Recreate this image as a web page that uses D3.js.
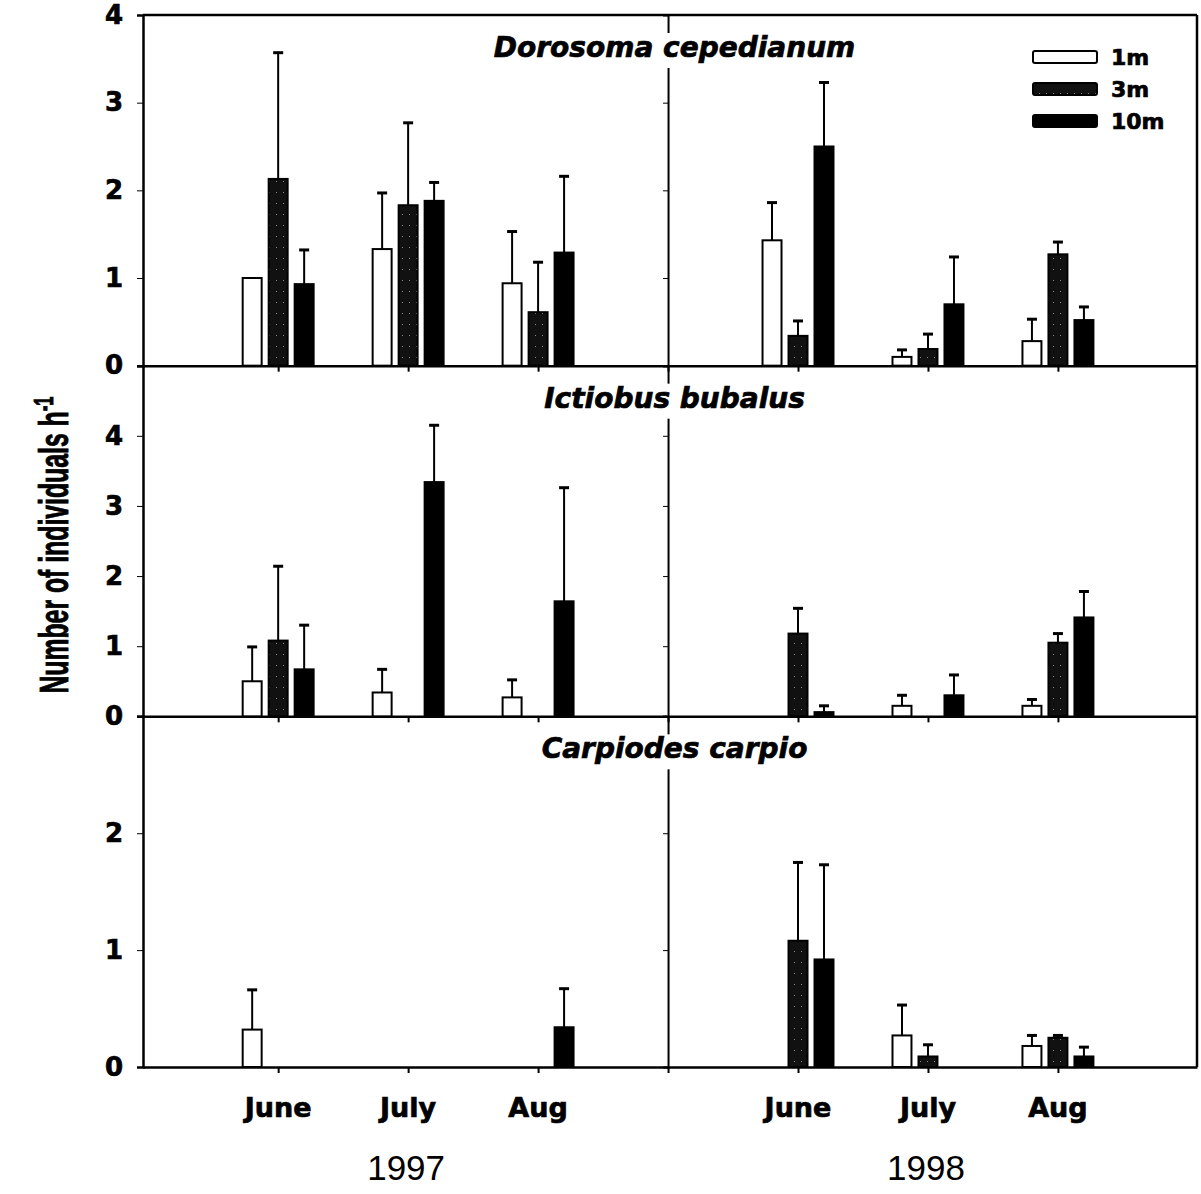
<!DOCTYPE html>
<html>
<head>
<meta charset="utf-8">
<script src="https://cdn.jsdelivr.net/npm/d3@7"></script>
<style>
  body { margin: 0; background: #fff; }
  .tick text { font-family: 'DejaVu Sans', sans-serif; font-weight: bold; stroke: #000; stroke-width: 0.7px; }
  .heavy { font-family: 'DejaVu Sans', sans-serif; font-weight: bold; stroke: #000; stroke-width: 0.7px; }
</style>
</head>
<body>
<div id="chart"></div>
<script>
const months = ['June', 'July', 'Aug'];
const years = ['1997', '1998'];
const depths = ['1m', '3m', '10m'];
const species = ['Dorosoma cepedianum', 'Ictiobus bubalus', 'Carpiodes carpio'];
const yMaxes = [4, 5, 3];
const yTicks = [[0, 1, 2, 3, 4], [0, 1, 2, 3, 4], [0, 1, 2]];

// rows: June97, July97, Aug97, June98, July98, Aug98 ; columns: 1m, 3m, 10m
const dorosomaMean = [[1.00, 2.13, 0.93], [1.33, 1.83, 1.88], [0.94, 0.61, 1.29],
                      [1.43, 0.34, 2.50], [0.10, 0.19, 0.70], [0.28, 1.27, 0.52]];
const dorosomaErr  = [[0.00, 1.44, 0.39], [0.64, 0.94, 0.21], [0.59, 0.57, 0.87],
                      [0.43, 0.17, 0.73], [0.08, 0.17, 0.54], [0.25, 0.14, 0.15]];
const ictiobusMean = [[0.50, 1.08, 0.67], [0.34, 0, 3.34], [0.27, 0, 1.64],
                      [0, 1.18, 0.06], [0.15, 0, 0.30], [0.15, 1.05, 1.41]];
const ictiobusErr  = [[0.49, 1.06, 0.63], [0.33, 0, 0.81], [0.25, 0, 1.62],
                      [0, 0.36, 0.09], [0.15, 0, 0.29], [0.09, 0.13, 0.37]];
const carpiodesMean = [[0.32, 0, 0], [0, 0, 0], [0, 0, 0.34],
                       [0, 1.08, 0.92], [0.27, 0.09, 0], [0.18, 0.25, 0.09]];
const carpiodesErr  = [[0.34, 0, 0], [0, 0, 0], [0, 0, 0.33],
                       [0, 0.67, 0.81], [0.26, 0.10, 0], [0.09, 0.02, 0.08]];

const means = [dorosomaMean, ictiobusMean, carpiodesMean];
const errs = [dorosomaErr, ictiobusErr, carpiodesErr];
const periodPos = [1, 2, 3, 5, 6, 7];

const width = 1201, height = 1194;
const plotLeft = 143, plotRight = 1197, plotTop = 15, plotBottom = 1067;
const panelH = (plotBottom - plotTop) / 3;

const svg = d3.select('#chart').append('svg')
    .attr('width', width).attr('height', height);

const defs = svg.append('defs');
const pat = defs.append('pattern').attr('id', 'stipple')
    .attr('patternUnits', 'userSpaceOnUse').attr('width', 7).attr('height', 11);
pat.append('rect').attr('width', 7).attr('height', 11).attr('fill', '#111');
pat.append('rect').attr('x', 3).attr('y', 5).attr('width', 1).attr('height', 1).attr('fill', '#888');
const fills = ['#fff', 'url(#stipple)', '#000'];

const x = d3.scaleLinear().domain([-0.04, 8.07]).range([plotLeft, plotRight]);
const offset = d3.scaleLinear().domain([0, 2]).range([-0.2, 0.2]);
const barW = x(0.146) - x(0);

species.forEach((name, p) => {
    let y = d3.scaleLinear().domain([0, yMaxes[p]])
        .range([plotTop + panelH * (p + 1), plotTop + panelH * p]);
    let g = svg.append('g');

    let yAxis = d3.axisLeft(y).tickValues(yTicks[p]).tickSize(6).tickPadding(14).tickFormat(d3.format('d'));
    g.append('g').attr('transform', `translate(${plotLeft},0)`).call(yAxis)
        .call(a => a.selectAll('text').attr('font-size', 26))
        .call(a => a.select('.domain').attr('stroke-width', 2.5));
    g.append('g').attr('transform', `translate(${x(4)},0)`)
        .call(d3.axisLeft(y).tickValues(yTicks[p]).tickSize(5).tickFormat(''))
        .call(a => a.select('.domain').attr('stroke-width', 2));

    let xAxis = d3.axisBottom(x).tickValues([1, 2, 3, 4, 5, 6, 7]).tickSize(6).tickSizeOuter(0).tickFormat('');
    g.append('g').attr('transform', `translate(0,${y(0)})`).call(xAxis)
        .call(a => a.select('.domain').attr('stroke-width', 2.5))
        .call(a => a.selectAll('.tick line').attr('stroke-width', 2));

    // panel title on a white box, hiding the divider behind it
    let titleBox = g.append('rect').attr('fill', '#fff');
    let title = g.append('text')
        .attr('class', 'heavy')
        .attr('x', x(4.05)).attr('y', y(yMaxes[p]) + 42)
        .attr('text-anchor', 'middle')
        .attr('font-style', 'italic').attr('font-size', 28)
        .text(name);
    let bb = title.node().getBBox();
    titleBox.attr('x', bb.x - 4).attr('y', bb.y + 2).attr('width', bb.width + 8).attr('height', bb.height + 2);

    let rows = [];
    means[p].forEach((row, i) => row.forEach((v, j) => {
        if (v > 0) rows.push({ pos: periodPos[i] + offset(j), v, e: errs[p][i][j], j });
    }));

    g.selectAll('.bar').data(rows).enter().append('rect')
        .attr('class', 'bar')
        .attr('x', d => x(d.pos) - barW / 2)
        .attr('width', barW)
        .attr('y', d => y(d.v))
        .attr('height', d => y(0) - y(d.v))
        .attr('fill', d => fills[d.j])
        .attr('stroke', '#000').attr('stroke-width', 2);

    let withErr = rows.filter(d => d.e > 0);
    g.selectAll('.err').data(withErr).enter().append('line')
        .attr('x1', d => x(d.pos)).attr('x2', d => x(d.pos))
        .attr('y1', d => y(d.v)).attr('y2', d => y(d.v + d.e))
        .attr('stroke', '#000').attr('stroke-width', 2);
    g.selectAll('.cap').data(withErr).enter().append('line')
        .attr('x1', d => x(d.pos) - 5).attr('x2', d => x(d.pos) + 5)
        .attr('y1', d => y(d.v + d.e)).attr('y2', d => y(d.v + d.e))
        .attr('stroke', '#000').attr('stroke-width', 3);
});

// frame: top and right borders
svg.append('line').attr('x1', plotLeft).attr('x2', plotRight).attr('y1', plotTop).attr('y2', plotTop)
    .attr('stroke', '#000').attr('stroke-width', 2.5);
svg.append('line').attr('x1', plotRight).attr('x2', plotRight).attr('y1', plotTop).attr('y2', plotBottom)
    .attr('stroke', '#000').attr('stroke-width', 2.5);

// month and year labels
periodPos.forEach((pos, i) => {
    svg.append('text').attr('class', 'heavy')
        .attr('x', x(pos)).attr('y', 1117)
        .attr('text-anchor', 'middle').attr('font-size', 27)
        .text(months[i % 3]);
});
years.forEach((yr, i) => {
    svg.append('text').attr('x', x(periodPos[i * 3 + 1]) - 2).attr('y', 1180)
        .attr('text-anchor', 'middle')
        .attr('font-family', "'Liberation Sans', Arial, sans-serif").attr('font-size', 35)
        .text(yr);
});

// legend
const legend = svg.append('g');
depths.forEach((dname, j) => {
    let cy = 57 + j * 32;
    legend.append('rect').attr('x', 1033).attr('y', cy - 6).attr('width', 64).attr('height', 12)
        .attr('rx', 2).attr('fill', fills[j]).attr('stroke', '#000').attr('stroke-width', 2);
    legend.append('text').attr('class', 'heavy')
        .attr('x', 1111).attr('y', cy + 8).attr('font-size', 22)
        .text(dname);
});

// y-axis title
const yTitle = svg.append('text')
    .attr('transform', 'translate(68,545) rotate(-90) scale(0.62,1)')
    .attr('text-anchor', 'middle')
    .attr('font-family', "'Liberation Sans', Arial, sans-serif")
    .attr('font-weight', 'bold').attr('font-size', 40)
    .attr('stroke', '#000').attr('stroke-width', 0.9);
yTitle.append('tspan').text('Number of individuals h');
yTitle.append('tspan').attr('font-size', 27).attr('dy', -15).text('-1');
</script>
</body>
</html>
